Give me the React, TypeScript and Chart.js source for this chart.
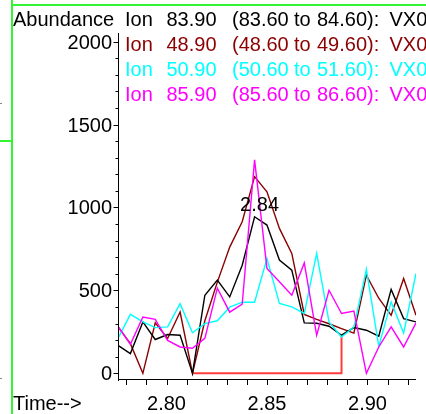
import { useEffect, useRef } from "react";
import { Chart, registerables } from "chart.js";

Chart.register(...registerables);

// ---- data ----
const times = [
  2.77586, 2.78202, 2.78823, 2.79439, 2.80055, 2.80676, 2.81292, 2.81908, 2.82529,
  2.83145, 2.83766, 2.84382, 2.84998, 2.85618, 2.86234, 2.86855, 2.87471, 2.88087,
  2.88708, 2.89324, 2.89945, 2.90561, 2.91177, 2.91798, 2.92414,
];
const ion839 = [169, 119, 310, 204, 234, 230, 0, 471, 562, 461, 652, 944, 894, 683, 622, 304, 302, 284, 230, 276, 260, 224, 506, 330, 310];
const ion489 = [280, 179, 0, 305, 210, 370, 0, 317, 550, 761, 914, 1186, 1095, 874, 723, 355, 325, 299, 270, 243, 592, 453, 350, 572, 350];
const ion509 = [210, 356, 310, 276, 280, 420, 245, 300, 317, 399, 429, 429, 692, 421, 401, 361, 723, 310, 219, 280, 627, 163, 431, 243, 602];
const ion859 = [284, 175, 340, 326, 199, 159, 151, 211, 514, 369, 417, 1287, 633, 552, 471, 666, 230, 501, 361, 375, 0, 159, 280, 159, 304];

const baselineStartIndex = 6;
const baselineEndIndex = 18;

const yLabelTicks = [0, 500, 1000, 1500, 2000];
const yMinorTicks = [
  0, 100, 200, 300, 400, 500, 600, 700, 800, 900, 1000, 1100, 1200, 1300, 1400, 1500,
  1600, 1700, 1800, 1900, 2000,
];
const xLabelTicks = [2.8, 2.85, 2.9];
const xMinorTicks = [2.78, 2.79, 2.8, 2.81, 2.82, 2.83, 2.84, 2.85, 2.86, 2.87, 2.88, 2.89, 2.9, 2.91, 2.92];

const legendIons = ["83.90", "48.90", "50.90", "85.90"];
const legendRanges = [
  ["(83.60", "84.60):"],
  ["(48.60", "49.60):"],
  ["(50.60", "51.60):"],
  ["(85.60", "86.60):"],
];
const colors = ["#000000", "#8b0000", "#00ffff", "#ff00ff"];
const baselineColor = "#ff3c3c";
const frameColor = "#33f533";

const FONT = '"Liberation Sans", Arial, sans-serif';

function pts(vals: number[]) {
  return vals.map((v, i) => ({ x: times[i], y: v }));
}

const overlay = {
  id: "chemOverlay",
  afterDraw(chart: any) {
    const ctx: CanvasRenderingContext2D = chart.ctx;
    const xs = chart.scales.x;
    const ys = chart.scales.y;
    const area = chart.chartArea;
    ctx.save();

    // green frame
    ctx.fillStyle = frameColor;
    ctx.fillRect(11, 0, 2, 414);
    ctx.fillRect(11, 4, 415, 2);
    ctx.fillRect(0, 140, 11, 2);
    ctx.fillStyle = "#888";
    ctx.fillRect(0, 103, 2, 1);
    ctx.fillRect(0, 378, 2, 1);

    // axes
    ctx.strokeStyle = "#000";
    ctx.lineWidth = 1;
    ctx.beginPath();
    ctx.moveTo(area.left + 0.5, area.top);
    ctx.lineTo(area.left + 0.5, area.bottom + 2);
    ctx.moveTo(area.left, area.bottom + 0.5);
    ctx.lineTo(area.right, area.bottom + 0.5);
    yMinorTicks.forEach((v) => {
      const y = Math.round(ys.getPixelForValue(v)) + 0.5;
      const len = yLabelTicks.includes(v) ? 5 : 3;
      ctx.moveTo(area.left + 0.5, y);
      ctx.lineTo(area.left + 0.5 - len, y);
    });
    xMinorTicks.forEach((t) => {
      const x = Math.round(xs.getPixelForValue(t)) + 0.5;
      ctx.moveTo(x, area.bottom);
      ctx.lineTo(x, area.bottom + 6);
    });
    ctx.stroke();

    ctx.font = `20px ${FONT}`;
    ctx.fillStyle = "#000";
    ctx.textBaseline = "alphabetic";
    ctx.textAlign = "right";
    yLabelTicks.forEach((v) => {
      ctx.fillText(String(v), area.left - 6, ys.getPixelForValue(v) + 7);
    });
    ctx.textAlign = "center";
    xLabelTicks.forEach((t) => {
      ctx.fillText(t.toFixed(2), xs.getPixelForValue(t), 410);
    });
    ctx.textAlign = "left";
    ctx.fillText("Time-->", 13, 410);
    ctx.fillText("Abundance", 13, 25.5);

    legendIons.forEach((ion, i) => {
      const yb = 25.5 + i * 25;
      ctx.fillStyle = colors[i];
      ctx.fillText("Ion", 125, yb);
      ctx.fillText(ion, 166.5, yb);
      ctx.fillText(legendRanges[i][0], 232, yb);
      ctx.fillText("to", 294, yb);
      ctx.fillText(legendRanges[i][1], 317, yb);
      ctx.fillText("VX0", 389.5, yb);
    });

    let pk = 0;
    ion839.forEach((v, i) => {
      if (v > ion839[pk]) pk = i;
    });
    ctx.fillStyle = "#000";
    ctx.textAlign = "center";
    ctx.fillText(times[pk].toFixed(2), xs.getPixelForValue(times[pk]) + 5, ys.getPixelForValue(ion839[pk]) - 6);

    ctx.restore();
  },
};

export default function App() {
  const ref = useRef<HTMLCanvasElement | null>(null);
  useEffect(() => {
    document.body.style.margin = "0";
    const canvas = ref.current;
    if (!canvas) return;
    const baseline = [
      { x: times[baselineStartIndex], y: 0 },
      { x: times[baselineEndIndex], y: 0 },
      { x: times[baselineEndIndex], y: ion839[baselineEndIndex] },
    ];
    const ds = (data: any, color: string) => ({
      data,
      borderColor: color,
      backgroundColor: color,
      borderWidth: 1.4,
      pointRadius: 0,
      tension: 0,
      fill: false,
    });
    const chart = new Chart(canvas, {
      type: "line",
      data: {
        datasets: [
          ds(pts(ion859), colors[3]),
          ds(pts(ion509), colors[2]),
          ds(pts(ion839), colors[0]),
          ds(pts(ion489), colors[1]),
          { ...ds(baseline, baselineColor), borderWidth: 2 },
        ],
      },
      options: {
        responsive: false,
        animation: false,
        layout: { padding: { left: 0, top: 33, right: 10, bottom: 0 } },
        plugins: { legend: { display: false }, tooltip: { enabled: false } },
        scales: {
          x: {
            type: "linear",
            min: times[0],
            max: times[times.length - 1],
            ticks: { display: false },
            grid: { display: false },
            border: { display: false },
            afterFit: (s: any) => {
              s.height = 35;
            },
          },
          y: {
            type: "linear",
            min: -34,
            max: 2052,
            ticks: { display: false },
            grid: { display: false },
            border: { display: false },
            afterFit: (s: any) => {
              s.width = 118;
            },
          },
        },
      } as any,
      plugins: [overlay],
    });
    return () => chart.destroy();
  }, []);
  return (
    <div style={{ position: "fixed", left: 0, top: 0, width: 426, height: 414, background: "#fff" }}>
      <canvas ref={ref} width={426} height={414} style={{ width: 426, height: 414, display: "block" }} />
    </div>
  );
}
